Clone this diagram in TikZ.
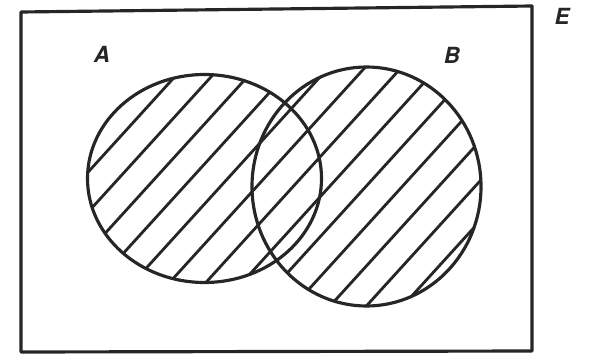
\documentclass[tikz,border=0pt]{standalone}
\usepackage{fontspec}
\setsansfont{TeX Gyre Heros}

\begin{document}
\begin{tikzpicture}[x=.03cm,y=.03cm,
  setlabel/.style={font=\fontsize{19}{21}\selectfont\sffamily\bfseries\itshape,text=black!85},
  pen/.style={draw=black!85,line width=2.7pt,line join=round}]
 \path[use as bounding box] (0,0) rectangle (597,359);
 \coordinate (ca) at (204.5,180.5);
 \coordinate (cb) at (366.5,172.5);
 % hatching of the union
 \begin{scope}
  \clip (ca) ellipse[x radius=117,y radius=104] (cb) ellipse[x radius=114.5,y radius=119.5];
  \foreach \c in {-470,-430,...,260}{\draw[pen,line width=2.4pt] (0,\c)--(600,660+\c);}
 \end{scope}
 \draw[pen] (ca) ellipse[x radius=117,y radius=104];
 \draw[pen] (cb) ellipse[x radius=114.5,y radius=119.5];
 \draw[pen] (21,347)--(532,353)--(532,8)--(21,7)--cycle;
 \node[setlabel] (la) at (102,305) {A};
 \node[setlabel] (lb) at (452,304) {B};
 \node[setlabel] (le) at (562,343) {E};
\end{tikzpicture}
\end{document}
